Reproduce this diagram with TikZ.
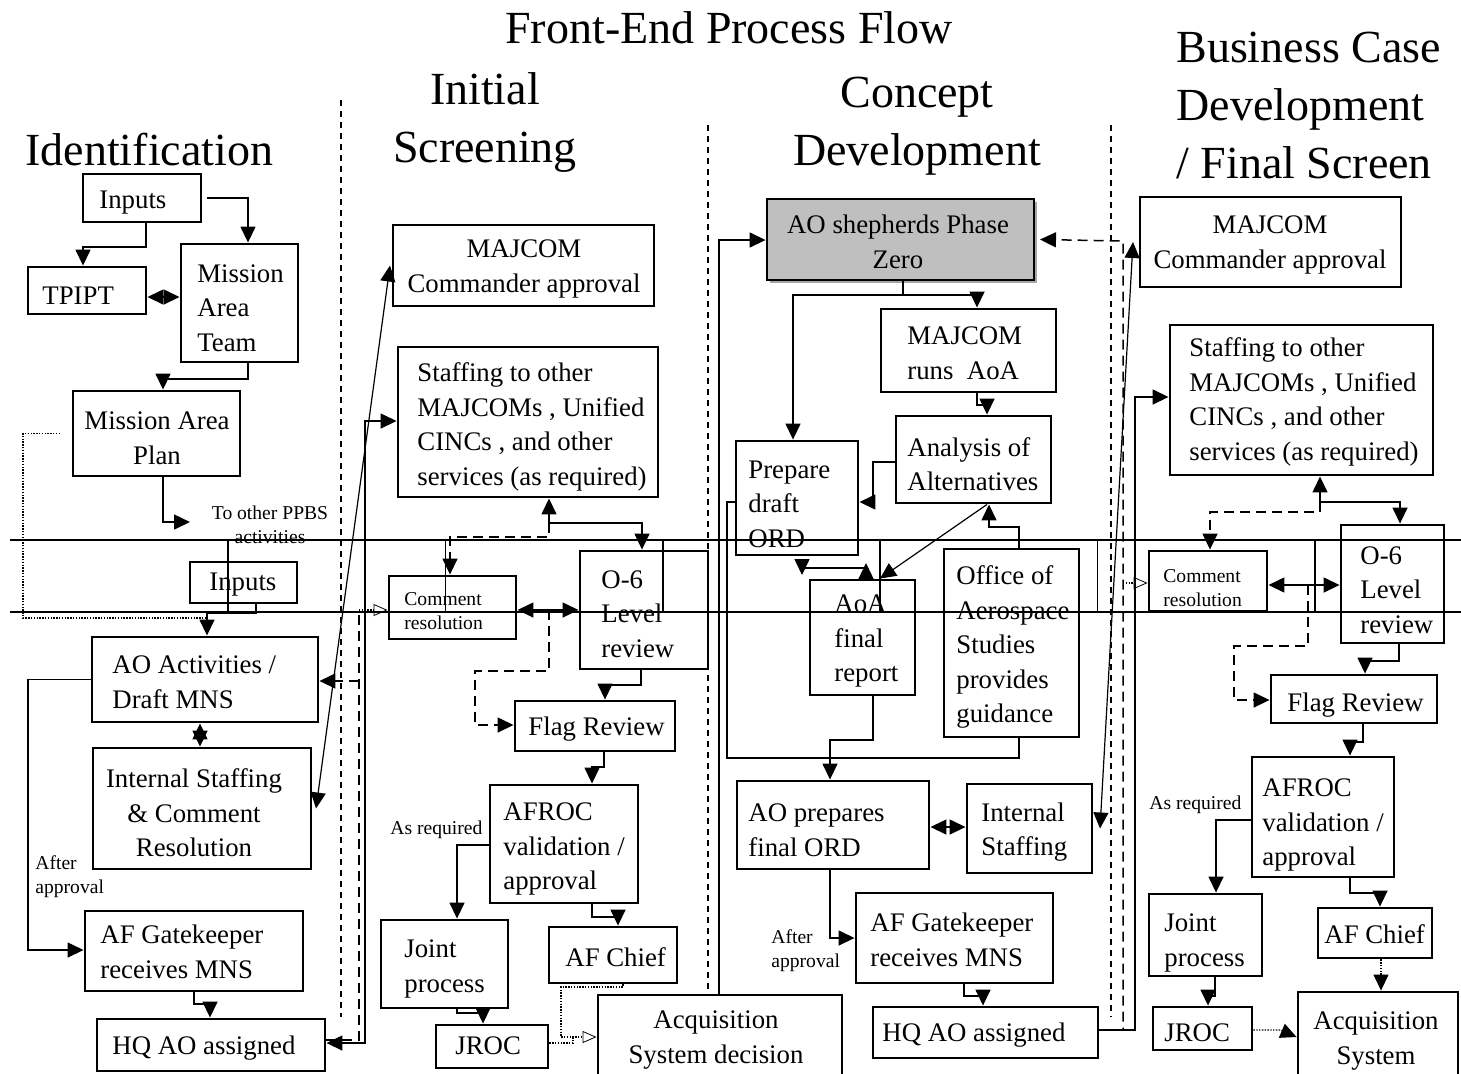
\documentclass[tikz,border=0pt]{standalone}
\usepackage{fontspec}
\setmainfont{Liberation Serif}
\usetikzlibrary{arrows.meta,shadows}
% box from pixel corners (x1,y1)-(x2,y2)
\newcommand\pbox[6][]{\node[box,#1,minimum width={(#5-#3)*0.5pt},minimum height={(#6-#4)*0.5pt}] (#2) at ({(#3+#5)/2},{(#4+#6)/2}) {};}
\begin{document}
\begin{tikzpicture}[x=0.5pt,y=-0.5pt,
  box/.style={draw,line width=1.45pt,inner sep=0pt},
  conn/.style={line width=0.75pt},
  arr/.style={conn,-{Triangle[length=8pt,width=7.5pt]}},
  darr/.style={conn,{Triangle[length=8pt,width=7.5pt]}-{Triangle[length=8pt,width=7.5pt]}},
  dsh/.style={dash pattern=on 5pt off 3pt},
  dot/.style={line width=0.6pt,dash pattern=on 0.7pt off 0.7pt},
  oarr/.style={-{Triangle[open,length=7pt,width=6pt,line width=0.4pt]}},
  sep/.style={line width=0.7pt,dash pattern=on 3pt off 2.5pt},
  lane/.style={line width=1.4pt},
  bt/.style={inner sep=0pt,anchor=west,align=left,font=\fontsize{13.4pt}{17.25pt}\selectfont},
  st/.style={inner sep=0pt,anchor=west,align=left,font=\fontsize{9.8pt}{12pt}\selectfont},
  hd/.style={inner sep=0pt,align=center,font=\fontsize{23pt}{29pt}\selectfont},
]
\fill[white] (0,0) rectangle (1461,1073);
\useasboundingbox (0,0) rectangle (1461,1073);

% headings
\node[hd] (title) at (729,28) {Front-End Process Flow};
\node[hd,anchor=west] (h-id) at (25,150) {Identification};
\node[hd] (h-is) at (485,122) {Initial\\Screening};
\node[hd] (h-cd) at (917,126) {Concept\\Development};
\node[hd,anchor=west,align=left] (h-bc) at (1176,105) {Business Case\\Development\\/ Final Screen};

% phase separators
\draw[sep] (341,100) -- (341,1017);
\draw[sep] (708,125) -- (708,990);
\draw[sep] (1111,125) -- (1111,1017);

% swim band
\draw[lane] (10,540) -- (1461,540);
\draw[lane] (10,612) -- (1461,612);
\foreach \k in {0,...,5} \draw[conn] ({228+217.4*\k},540) -- ({228+217.4*\k},612);

% ---------- boxes ----------
% Identification
\pbox{inp1}{83}{174}{201}{222}
\pbox{tpipt}{28}{267}{146}{314}
\pbox{mat}{181}{244}{298}{362}
\pbox{map}{73}{391}{240}{476}
\pbox{inp2}{190}{562}{297}{603}
\pbox{aoact}{92}{637}{318}{722}
\pbox{is1}{93}{748}{311}{869}
\pbox{gk1}{85}{911}{303}{991}
\pbox{hq1}{97}{1019}{325}{1071}
% Initial Screening
\pbox{mj1}{393}{225}{654}{306}
\pbox{st1}{398}{347}{658}{497}
\pbox{cr1}{389}{576}{516}{639}
\pbox{o61}{580}{551}{708}{669}
\pbox{fr1}{515}{701}{675}{751}
\pbox{af1}{490}{785}{638}{903}
\pbox{jp1}{381}{920}{508}{1008}
\pbox{ch1}{549}{927}{677}{983}
\pbox{jr1}{436}{1025}{548}{1068}
\pbox{acq1}{598}{995}{842}{1090}
% Concept Development
\pbox[fill=black!25,drop shadow={shadow xshift=1.5pt,shadow yshift=-1.5pt,fill=black!35,opacity=1}]{ao}{767}{199}{1034}{280}
\pbox{mr}{881}{309}{1056}{392}
\pbox{an}{896}{416}{1051}{503}
\pbox{pd}{736}{441}{858}{555}
\pbox{aoa}{810}{580}{915}{695}
\pbox{oas}{944}{549}{1079}{737}
\pbox{apf}{737}{781}{929}{869}
\pbox{isc}{967}{784}{1092}{873}
\pbox{gk2}{856}{893}{1053}{983}
\pbox{hq2}{873}{1007}{1098}{1058}
% Business Case Development / Final Screen
\pbox{mj2}{1140}{197}{1401}{287}
\pbox{st2}{1170}{325}{1433}{475}
\pbox{cr2}{1149}{551}{1267}{611}
\pbox{o62}{1341}{525}{1444}{643}
\pbox{fr2}{1271}{675}{1437}{723}
\pbox{af2}{1252}{757}{1394}{877}
\pbox{jp2}{1149}{894}{1262}{976}
\pbox{ch2}{1318}{908}{1432}{958}
\pbox{jr2}{1153}{1007}{1252}{1050}
\pbox{acq2}{1298}{992}{1458}{1090}

% ---------- texts ----------
\node[bt] (t-inp1) at (99,203) {Inputs};
\node[bt] (t-tpipt) at (42,296) {TPIPT};
\node[bt] (t-mat) at (197,308) {Mission\\Area\\Team};
\node[bt,anchor=center,align=center] (t-map) at (157,438) {Mission Area\\Plan};
\node[bt] (t-inp2) at (209,585) {Inputs};
\node[bt] (t-aoact) at (112,682) {AO Activities /\\Draft MNS};
\node[bt,anchor=center,align=center] (t-is1) at (194,813) {Internal Staffing\\\& Comment\\Resolution};
\node[bt] (t-gk1) at (100,952) {AF Gatekeeper\\receives MNS};
\node[bt] (t-hq1) at (112,1048) {HQ AO assigned};
\node[st] (t-after1) at (35,877) {After\\approval};
\node[st,anchor=center,align=center] (t-ppbs) at (270,525) {To other PPBS\\activities};

\node[bt,anchor=center,align=center] (t-mj1) at (524,269) {MAJCOM\\Commander approval};
\node[bt] (t-st1) at (417,427) {Staffing to other\\MAJCOMs , Unified\\CINCs , and other\\services (as required)};
\node[st] (t-cr1) at (404,611) {Comment\\resolution};
\node[bt] (t-o61) at (601,614) {O-6\\Level\\review};
\node[bt] (t-fr1) at (528,729) {Flag Review};
\node[bt] (t-af1) at (503,849) {AFROC\\validation /\\approval};
\node[bt] (t-jp1) at (404,969) {Joint\\process};
\node[bt] (t-ch1) at (565,957) {AF Chief};
\node[bt] (t-jr1) at (455,1046) {JROC};
\node[bt,anchor=center,align=center] (t-acq1) at (716,1040) {Acquisition\\System decision};
\node[st] (t-asr1) at (390,830) {As required};

\node[bt,anchor=center,align=center] (t-ao) at (898,242) {AO shepherds Phase\\Zero};
\node[bt] (t-mr) at (907,353) {MAJCOM\\runs\ \ AoA};
\node[bt] (t-an) at (907,464) {Analysis of\\Alternatives};
\node[bt] (t-pd) at (748,504) {Prepare\\draft\\ORD};
\node[bt] (t-aoa) at (834,641) {AoA\\final\\report};
\node[bt] (t-oas) at (956,647) {Office of\\Aerospace\\Studies\\provides\\guidance};
\node[bt] (t-apf) at (748,830) {AO prepares\\final ORD};
\node[bt] (t-isc) at (981,832) {Internal\\Staffing};
\node[bt] (t-gk2) at (870,940) {AF Gatekeeper\\receives MNS};
\node[bt] (t-hq2) at (882,1035) {HQ AO assigned};
\node[st] (t-after2) at (771,951) {After\\approval};

\node[bt,anchor=center,align=center] (t-mj2) at (1270,245) {MAJCOM\\Commander approval};
\node[bt] (t-st2) at (1189,402) {Staffing to other\\MAJCOMs , Unified\\CINCs , and other\\services (as required)};
\node[st] (t-cr2) at (1163,588) {Comment\\resolution};
\node[bt] (t-o62) at (1360,590) {O-6\\Level\\review};
\node[bt] (t-fr2) at (1287,705) {Flag Review};
\node[bt] (t-af2) at (1262,825) {AFROC\\validation /\\approval};
\node[st] (t-asr2) at (1149,805) {As required};
\node[bt] (t-jp2) at (1164,943) {Joint\\process};
\node[bt] (t-ch2) at (1324,934) {AF Chief};
\node[bt] (t-jr2) at (1164,1033) {JROC};
\node[bt,anchor=center,align=center] (t-acq2) at (1376,1041) {Acquisition\\System};

% free ends
\coordinate (ppbs-in) at (190,522);
\coordinate (cr1-in) at (359,610);
\coordinate (aoa-up) at (866,563);
\coordinate (pd-dn) at (802,575);
\coordinate (cr2-in) at (1123,583);

% ---------- connectors: Identification ----------
\draw[arr] (146,0 |- inp1.south) |- (83,247) -- (83,0 |- tpipt.north);
\draw[arr] (207,0 |- inp1.east) -| (248,0 |- mat.north);
\draw[darr] (tpipt.east |- 0,297) -- (mat.west |- 0,297);
\draw[arr] (248,0 |- mat.south) |- (163,379) -- (163,0 |- map.north);
\draw[arr] (163,0 |- map.south) |- (ppbs-in);
\draw[arr] (256,0 |- inp2.south) |- (207,613) -- (207,0 |- aoact.north);
\draw[dot] (60,0 |- map.west) -| (23,618) -- (207,618);
\draw[dot,oarr] (cr1-in) -- (cr1.west |- 0,610);
\draw[arr] (aoact.west) -| (28,950) -- (gk1.west |- 0,950);
\draw[darr] (200,0 |- aoact.south) -- (200,0 |- is1.north);
\draw[arr] (194,0 |- gk1.south) |- (210,1004) -- (210,0 |- hq1.north);
\draw[darr] (hq1.east |- 0,1043) -| (365,421) -- (st1.west |- 0,421);
\draw[conn,dsh] (hq1.east |- 0,1040) -| (cr1-in);
\draw[arr,dsh] (359,681) -- (aoact.east |- 0,681);
\draw[darr,line width=0.6pt] (316,0 |- is1.east) -- (390,0 |- mj1.west);

% ---------- connectors: Initial Screening ----------
\draw[darr] (549,0 |- st1.south) |- (642,523) -- (642,0 |- o61.north);
\draw[arr,dsh] (549,523) |- (450,537) -- (450,0 |- cr1.north);
\draw[darr] (cr1.east |- 0,610) -- (o61.west |- 0,610);
\draw[arr,dsh] (549,610) |- (475,671) |- (fr1.west |- 0,725);
\draw[arr] (641,0 |- o61.south) |- (605,685) -- (605,0 |- fr1.north);
\draw[arr] (604,0 |- fr1.south) |- (592,767) -- (592,0 |- af1.north);
\draw[arr] (af1.west |- 0,845) -| (457,0 |- jp1.north);
\draw[arr] (592,0 |- af1.south) |- (618,917) -- (618,0 |- ch1.north);
\draw[arr] (457,0 |- jp1.south) |- (483,1013) -- (483,0 |- jr1.north);
\draw[dot,oarr] (623,0 |- ch1.south) |- (561,987) |- (acq1.west |- 0,1037);
\draw[dot] (jr1.east |- 0,1043) -| (573,1037);

% ---------- connectors: Concept Development ----------
\draw[arr] (903,0 |- ao.south) |- (977,295) -- (977,0 |- mr.north);
\draw[arr] (903,295) -| (793,0 |- pd.north);
\draw[arr] (977,0 |- mr.south) |- (987,405) -- (987,0 |- an.north);
\draw[arr] (an.west |- 0,462) -| (873,502) -- (pd.east |- 0,502);
\draw[arr] (1019,0 |- oas.north) |- (989,527) -- (989,0 |- an.south);
\draw[arr,line width=0.6pt] (987,0 |- an.south) -- (880,0 |- aoa.north);
\draw[arr] (866,0 |- aoa.north) -- (aoa-up);
\draw[arr] (866,568) -- (802,568) -- (pd-dn);
\draw[arr] (873,0 |- aoa.south) |- (830,740) -- (830,0 |- apf.north);
\draw[conn] (1019,0 |- oas.south) |- (727,758) |- (pd.west |- 0,502);
\draw[arr] (719,0 |- acq1.north) |- (ao.west |- 0,240);
\draw[darr] (apf.east |- 0,827) -- (isc.west |- 0,827);
\draw[arr] (830,0 |- apf.south) |- (gk2.west |- 0,938);
\draw[arr] (964,0 |- gk2.south) |- (983,996) -- (983,0 |- hq2.north);
\draw[arr] (hq2.east |- 0,1030) -| (1135,397) -- (st2.west |- 0,397);
\draw[arr,dsh] (hq2.east |- 0,1030) -| (1123,241) -- (1040,0 |- ao.east);
\draw[darr,line width=0.6pt] (1100,0 |- isc.east) -- (1133,0 |- mj2.west);
\draw[dot,oarr] (cr2-in) -- (cr2.west |- 0,583);

% ---------- connectors: Business Case ----------
\draw[darr] (1320,0 |- st2.south) |- (1400,502) -- (1400,0 |- o62.north);
\draw[arr,dsh] (1320,502) |- (1210,512) -- (1210,0 |- cr2.north);
\draw[darr] (cr2.east |- 0,585) -- (o62.west |- 0,585);
\draw[arr,dsh] (1308,585) |- (1234,646) |- (fr2.west |- 0,700);
\draw[arr] (1399,0 |- o62.south) |- (1365,661) -- (1365,0 |- fr2.north);
\draw[arr] (1363,0 |- fr2.south) |- (1350,742) -- (1350,0 |- af2.north);
\draw[arr] (af2.west |- 0,820) -| (1216,0 |- jp2.north);
\draw[arr] (1350,0 |- af2.south) |- (1380,893) -- (1380,0 |- ch2.north);
\draw[arr] (1215,0 |- jp2.south) |- (1208,996) -- (1208,0 |- jr2.north);
\draw[arr,dot] (1381,0 |- ch2.south) -- (1381,0 |- acq2.north);
\draw[arr,dot] (jr2.east |- 0,1030) -- (1280,1030) -- (acq2.west |- 0,1037);
\end{tikzpicture}
\end{document}
